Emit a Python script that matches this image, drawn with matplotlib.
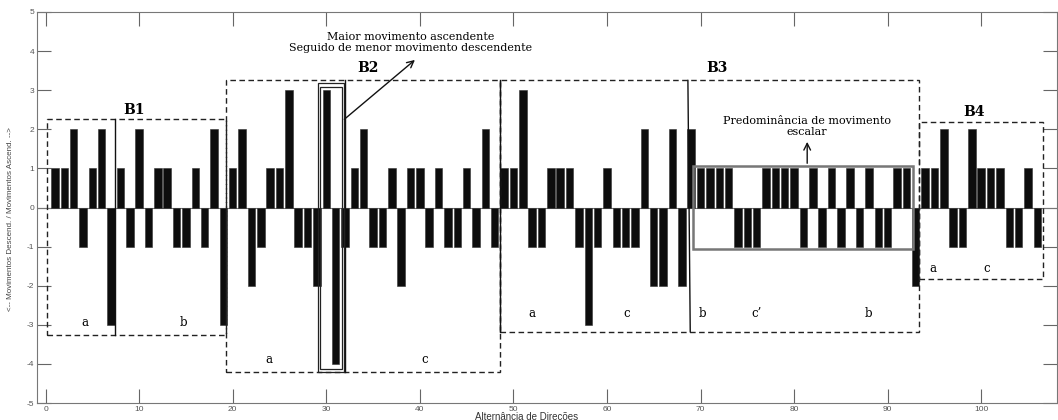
import matplotlib
matplotlib.use("Agg")
import matplotlib.pyplot as plt
from matplotlib.patches import Rectangle

plt.rcParams["axes.unicode_minus"] = False

# ---- data ----
positions = list(range(1, 107))
values = [1, 1, 2, -1, 1, 2, -3, 1, -1, 2,
          -1, 1, 1, -1, -1, 1, -1, 2, -3, 1,
          2, -2, -1, 1, 1, 3, -1, -1, -2, 3,
          -4, -1, 1, 2, -1, -1, 1, -2, 1, 1,
          -1, 1, -1, -1, 1, -1, 2, -1, 1, 1,
          3, -1, -1, 1, 1, 1, -1, -3, -1, 1,
          -1, -1, -1, 2, -2, -2, 2, -2, 2, 1,
          1, 1, 1, -1, -1, -1, 1, 1, 1, 1,
          -1, 1, -1, 1, -1, 1, -1, 1, -1, -1,
          1, 1, -2, 1, 1, 2, -1, -1, 2, 1,
          1, 1, -1, -1, 1, -1]
xticks = [0, 10, 20, 30, 40, 50, 60, 70, 80, 90, 100]
yticks = [-5, -4, -3, -2, -1, 0, 1, 2, 3, 4, 5]

# section boxes: (x0, x1, y0, y1)
blocks = {"B1": (0.15, 19.3, -3.26, 2.27),
          "B2": (19.3, 48.6, -4.2, 3.25),
          "B3": (48.6, 93.3, -3.18, 3.25),
          "B4": (93.3, 106.6, -1.83, 2.18)}
block_labels = [("B1", 9.4, 2.5), ("B2", 34.5, 3.58), ("B3", 71.8, 3.58), ("B4", 99.2, 2.45)]
sub_labels = [("a", 4.2, -2.95), ("b", 14.7, -2.95),
              ("a", 23.9, -3.9), ("c", 40.5, -3.9),
              ("a", 52.0, -2.72), ("c", 62.1, -2.72), ("b", 70.2, -2.72),
              ("c\u2019", 76.0, -2.72), ("b", 88.0, -2.72),
              ("a", 94.8, -1.57), ("c", 100.6, -1.57)]

serif = ["DejaVu Serif"]
sans = ["Liberation Sans", "DejaVu Sans"]

fig = plt.figure(figsize=(10.58, 4.2), dpi=100)
ax = fig.add_axes([37 / 1058, 17 / 420, 1020 / 1058, 391 / 420])

ax.bar(positions, values, width=0.8, color="#0d0d0d", edgecolor="#333333",
       linewidth=0.4, zorder=3)
ax.axhline(0, color="#777777", linewidth=0.8, zorder=2)

ax.set_xlim(-0.92, 108.1)
ax.set_ylim(-5, 5)
ax.set_xticks(xticks)
ax.set_yticks(yticks)
ax.tick_params(direction="in", length=10, width=0.8, color="#666666",
               labelsize=6, labelcolor="#555555", top=True, right=True, pad=2)
for lab in ax.get_xticklabels() + ax.get_yticklabels():
    lab.set_family(sans)
for s in ax.spines.values():
    s.set_color("#777777")
    s.set_linewidth(0.8)

ax.set_xlabel("Altern\u00e2ncia de Dire\u00e7\u00f5es", fontsize=7, color="#333333",
              family=sans)
ax.xaxis.set_label_coords(0.48, -0.022)
ax.set_ylabel("<-- Movimentos Descend. / Movimentos Ascend. -->", fontsize=5.8,
              color="#444444", family=sans)
ax.yaxis.set_label_coords(-0.023, 0.47)

# dashed section boxes
for name, (x0, x1, y0, y1) in blocks.items():
    ax.add_patch(Rectangle((x0, y0), x1 - x0, y1 - y0, fill=False,
                           edgecolor="#222222", linestyle=(0, (4, 2.5)),
                           linewidth=1.0, zorder=4))

# solid split lines
split_lines = [((7.45, 7.45), (-3.26, 2.27)),
               ((32.0, 32.0), (-4.2, 3.25)),
               ((48.6, 48.6), (-3.18, 3.25)),
               ((68.65, 68.9), (3.25, -3.18))]
for xs, ys in split_lines:
    ax.plot(xs, ys, color="#111111", linewidth=1.0, zorder=5)

# double rectangle around bars 30-31
ax.add_patch(Rectangle((29.15, -4.2), 2.7, 7.38, fill=False, edgecolor="#222222",
                       linewidth=0.9, zorder=5))
ax.add_patch(Rectangle((29.32, -4.12), 2.36, 7.2, fill=False, edgecolor="#222222",
                       linewidth=0.9, zorder=5))

# gray rectangle for scalar movement
ax.add_patch(Rectangle((69.2, -1.07), 23.5, 2.13, fill=False, edgecolor="#777777",
                       linewidth=1.8, zorder=5))

# labels
for txt, x, y in block_labels:
    ax.text(x, y, txt, family=serif, fontsize=10, fontweight="bold",
            ha="center", va="center", zorder=6)
for txt, x, y in sub_labels:
    ax.text(x, y, txt, family=serif, fontsize=8.5, ha="center", va="center", zorder=6)

ax.text(39.0, 4.36, "Maior movimento ascendente", family=serif, fontsize=8,
        ha="center", va="center", zorder=6)
ax.text(39.0, 4.07, "Seguido de menor movimento descendente", family=serif, fontsize=8,
        ha="center", va="center", zorder=6)
ax.annotate("", xy=(39.7, 3.82), xytext=(31.7, 2.21),
            arrowprops=dict(arrowstyle="->", color="#111111", lw=1.0,
                            mutation_scale=12), zorder=6)

ax.text(81.4, 2.2, "Predomin\u00e2ncia de movimento", family=serif, fontsize=8,
        ha="center", va="center", zorder=6)
ax.text(81.4, 1.93, "escalar", family=serif, fontsize=8,
        ha="center", va="center", zorder=6)
ax.annotate("", xy=(81.4, 1.75), xytext=(81.4, 1.06),
            arrowprops=dict(arrowstyle="->", color="#111111", lw=1.0,
                            mutation_scale=12), zorder=6)

fig.savefig("out.png", dpi=100)
